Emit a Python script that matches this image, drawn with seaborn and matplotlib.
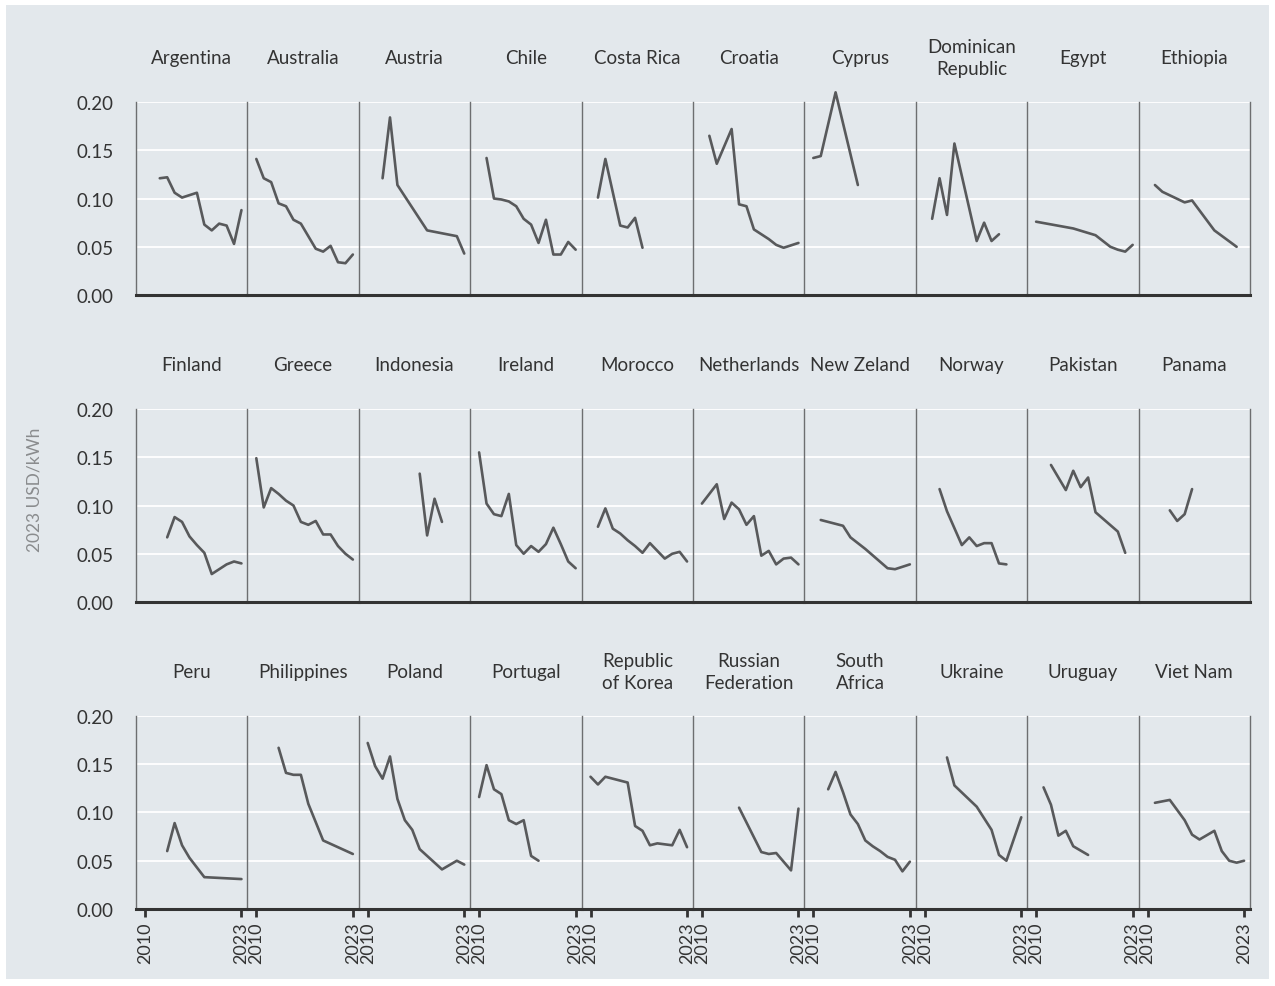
import pandas as pd
import seaborn as sns
import matplotlib.pyplot as plt
from matplotlib.patches import Rectangle

BG = '#e3e8ec'
LINE = '#58595b'
DARK = '#333333'

COUNTRIES = [
    'Argentina', 'Australia', 'Austria', 'Chile', 'Costa Rica',
    'Croatia', 'Cyprus', 'Dominican\nRepublic', 'Egypt', 'Ethiopia',
    'Finland', 'Greece', 'Indonesia', 'Ireland', 'Morocco',
    'Netherlands', 'New Zeland', 'Norway', 'Pakistan', 'Panama',
    'Peru', 'Philippines', 'Poland', 'Portugal', 'Republic\nof Korea',
    'Russian\nFederation', 'South\nAfrica', 'Ukraine', 'Uruguay', 'Viet Nam',
]

# (years, 2023 USD/kWh)
ARGENTINA = ([2012, 2013, 2014, 2015, 2017, 2018, 2019, 2020, 2021, 2022, 2023],
             [0.121, 0.122, 0.106, 0.101, 0.106, 0.073, 0.067, 0.074, 0.072, 0.053, 0.088])
AUSTRALIA = ([2010, 2011, 2012, 2013, 2014, 2015, 2016, 2017, 2018, 2019, 2020, 2021, 2022, 2023],
             [0.141, 0.121, 0.117, 0.095, 0.092, 0.078, 0.074, 0.061, 0.048, 0.045, 0.051, 0.034, 0.033, 0.042])
AUSTRIA = ([2012, 2013, 2014, 2018, 2022, 2023],
           [0.121, 0.184, 0.114, 0.067, 0.061, 0.043])
CHILE = ([2011, 2012, 2013, 2014, 2015, 2016, 2017, 2018, 2019, 2020, 2021, 2022, 2023],
         [0.142, 0.100, 0.099, 0.097, 0.092, 0.079, 0.073, 0.054, 0.078, 0.042, 0.042, 0.055, 0.047])
COSTA_RICA = ([2011, 2012, 2014, 2015, 2016, 2017],
              [0.101, 0.141, 0.072, 0.070, 0.080, 0.049])
CROATIA = ([2011, 2012, 2014, 2015, 2016, 2017, 2019, 2020, 2021, 2023],
           [0.165, 0.136, 0.172, 0.094, 0.092, 0.068, 0.058, 0.052, 0.049, 0.054])
CYPRUS = ([2010, 2011, 2013, 2016],
          [0.142, 0.144, 0.210, 0.114])
DOMINICAN_REP = ([2011, 2012, 2013, 2014, 2017, 2018, 2019, 2020],
                 [0.079, 0.121, 0.083, 0.157, 0.056, 0.075, 0.056, 0.063])
EGYPT = ([2010, 2015, 2018, 2020, 2021, 2022, 2023],
         [0.076, 0.069, 0.062, 0.050, 0.047, 0.045, 0.052])
ETHIOPIA = ([2011, 2012, 2015, 2016, 2019, 2022],
            [0.114, 0.107, 0.096, 0.098, 0.067, 0.050])
FINLAND = ([2013, 2014, 2015, 2016, 2017, 2018, 2019, 2020, 2021, 2022, 2023],
           [0.067, 0.088, 0.083, 0.068, 0.059, 0.051, 0.029, 0.034, 0.039, 0.042, 0.040])
GREECE = ([2010, 2011, 2012, 2013, 2014, 2015, 2016, 2017, 2018, 2019, 2020, 2021, 2022, 2023],
          [0.149, 0.098, 0.118, 0.112, 0.105, 0.100, 0.083, 0.080, 0.084, 0.070, 0.070, 0.058, 0.050, 0.044])
INDONESIA = ([2017, 2018, 2019, 2020],
             [0.133, 0.069, 0.107, 0.083])
IRELAND = ([2010, 2011, 2012, 2013, 2014, 2015, 2016, 2017, 2018, 2019, 2020, 2021, 2022, 2023],
           [0.155, 0.102, 0.091, 0.089, 0.112, 0.059, 0.050, 0.058, 0.052, 0.060, 0.077, 0.060, 0.042, 0.035])
MOROCCO = ([2011, 2012, 2013, 2014, 2015, 2016, 2017, 2018, 2019, 2020, 2021, 2022, 2023],
           [0.078, 0.097, 0.076, 0.071, 0.064, 0.058, 0.051, 0.061, 0.053, 0.045, 0.050, 0.052, 0.042])
NETHERLANDS = ([2010, 2012, 2013, 2014, 2015, 2016, 2017, 2018, 2019, 2020, 2021, 2022, 2023],
               [0.102, 0.122, 0.086, 0.103, 0.096, 0.080, 0.089, 0.048, 0.053, 0.039, 0.045, 0.046, 0.039])
NEW_ZELAND = ([2011, 2014, 2015, 2017, 2020, 2021, 2023],
              [0.085, 0.079, 0.067, 0.055, 0.035, 0.034, 0.039])
NORWAY = ([2012, 2013, 2015, 2016, 2017, 2018, 2019, 2020, 2021],
          [0.117, 0.094, 0.059, 0.067, 0.058, 0.061, 0.061, 0.040, 0.039])
PAKISTAN = ([2012, 2014, 2015, 2016, 2017, 2018, 2021, 2022],
            [0.142, 0.116, 0.136, 0.119, 0.129, 0.093, 0.073, 0.051])
PANAMA = ([2013, 2014, 2015, 2016],
          [0.095, 0.084, 0.091, 0.117])
PERU = ([2013, 2014, 2015, 2016, 2018, 2023],
        [0.060, 0.089, 0.066, 0.053, 0.033, 0.031])
PHILIPPINES = ([2013, 2014, 2015, 2016, 2017, 2019, 2023],
               [0.167, 0.141, 0.139, 0.139, 0.109, 0.071, 0.057])
POLAND = ([2010, 2011, 2012, 2013, 2014, 2015, 2016, 2017, 2020, 2022, 2023],
          [0.172, 0.148, 0.135, 0.158, 0.114, 0.092, 0.082, 0.062, 0.041, 0.050, 0.046])
PORTUGAL = ([2010, 2011, 2012, 2013, 2014, 2015, 2016, 2017, 2018],
            [0.116, 0.149, 0.124, 0.119, 0.092, 0.088, 0.092, 0.055, 0.050])
KOREA = ([2010, 2011, 2012, 2015, 2016, 2017, 2018, 2019, 2021, 2022, 2023],
         [0.137, 0.129, 0.137, 0.131, 0.086, 0.081, 0.066, 0.068, 0.066, 0.082, 0.064])
RUSSIA = ([2015, 2018, 2019, 2020, 2022, 2023],
          [0.105, 0.059, 0.057, 0.058, 0.040, 0.104])
SOUTH_AFRICA = ([2012, 2013, 2014, 2015, 2016, 2017, 2018, 2019, 2020, 2021, 2022, 2023],
                [0.124, 0.142, 0.121, 0.098, 0.088, 0.071, 0.065, 0.060, 0.054, 0.051, 0.039, 0.049])
UKRAINE = ([2013, 2014, 2017, 2019, 2020, 2021, 2023],
           [0.157, 0.128, 0.106, 0.082, 0.056, 0.050, 0.095])
URUGUAY = ([2011, 2012, 2013, 2014, 2015, 2017],
           [0.126, 0.108, 0.076, 0.081, 0.065, 0.056])
VIET_NAM = ([2011, 2013, 2015, 2016, 2017, 2019, 2020, 2021, 2022, 2023],
            [0.110, 0.113, 0.092, 0.077, 0.072, 0.081, 0.060, 0.050, 0.048, 0.050])

SERIES = [
    ARGENTINA, AUSTRALIA, AUSTRIA, CHILE, COSTA_RICA,
    CROATIA, CYPRUS, DOMINICAN_REP, EGYPT, ETHIOPIA,
    FINLAND, GREECE, INDONESIA, IRELAND, MOROCCO,
    NETHERLANDS, NEW_ZELAND, NORWAY, PAKISTAN, PANAMA,
    PERU, PHILIPPINES, POLAND, PORTUGAL, KOREA,
    RUSSIA, SOUTH_AFRICA, UKRAINE, URUGUAY, VIET_NAM,
]

rows = []
for name, (years, vals) in zip(COUNTRIES, SERIES):
    for y, v in zip(years, vals):
        rows.append({'country': name, 'year': y, 'usd': v})
df = pd.DataFrame(rows)

sns.set_style('darkgrid', {'axes.facecolor': BG, 'grid.color': 'white'})
plt.rcParams['font.family'] = ['Lato', 'DejaVu Sans']

g = sns.relplot(data=df, x='year', y='usd', col='country', col_order=COUNTRIES,
                col_wrap=10, kind='line', color=LINE, linewidth=1.9,
                height=2, aspect=0.58)

fig = g.figure
fig.set_size_inches(12.75, 9.87)
fig.set_facecolor('white')
fig.subplots_adjust(left=136 / 1275, right=1250 / 1275,
                    top=1 - 103 / 987, bottom=1 - 910 / 987,
                    wspace=0, hspace=0.59)
fig.add_artist(Rectangle((6 / 1275, 7 / 987), 1263 / 1275, 974 / 987,
                         transform=fig.transFigure, facecolor=BG,
                         edgecolor='none', zorder=-1))

g.set_titles('')
g.set_axis_labels('', '')

for i, (ax, name) in enumerate(zip(g.axes.flat, COUNTRIES)):
    row, col = divmod(i, 10)
    ax.set_xlim(2008.8, 2023.8)
    ax.set_ylim(0, 0.2)
    ax.set_yticks([0, 0.05, 0.10, 0.15, 0.20])
    ax.set_yticklabels(['0.00', '0.05', '0.10', '0.15', '0.20'])
    ax.set_xticks([2010, 2023])
    ax.grid(axis='x', visible=False)
    ax.grid(axis='y', color='white', linewidth=1.3)
    # Cyprus peaks just above the 0.20 limit
    for ln in ax.lines:
        ln.set_clip_on(False)
    for s in ['top', 'right']:
        ax.spines[s].set_visible(False)
    ax.spines['left'].set_visible(True)
    ax.spines['left'].set_color('#6d6e70')
    ax.spines['left'].set_linewidth(1.0)
    ax.spines['bottom'].set_visible(True)
    ax.spines['bottom'].set_color(DARK)
    ax.spines['bottom'].set_linewidth(2.2)
    if col == 9:
        ax.spines['right'].set_visible(True)
        ax.spines['right'].set_color('#6d6e70')
        ax.spines['right'].set_linewidth(1.0)
    ax.tick_params(axis='y', left=False, length=0, pad=16, labelsize=13.5,
                   labelcolor=DARK)
    if row == 2:
        ax.tick_params(axis='x', bottom=True, length=6, width=2, color=DARK,
                       labelsize=13, labelcolor=DARK, labelrotation=90, pad=3)
    else:
        ax.tick_params(axis='x', bottom=False, length=0)
    ax.text(0.5, 1.23, name, transform=ax.transAxes, ha='center', va='center',
            fontsize=13.5, color=DARK, linespacing=1.3)

fig.text(35 / 1275, 1 - 490 / 987, '2023 USD/kWh', rotation=90,
         ha='center', va='center', fontsize=12.5, color='#8a8c8e')

fig.savefig('out.png', dpi=100, facecolor='white')
